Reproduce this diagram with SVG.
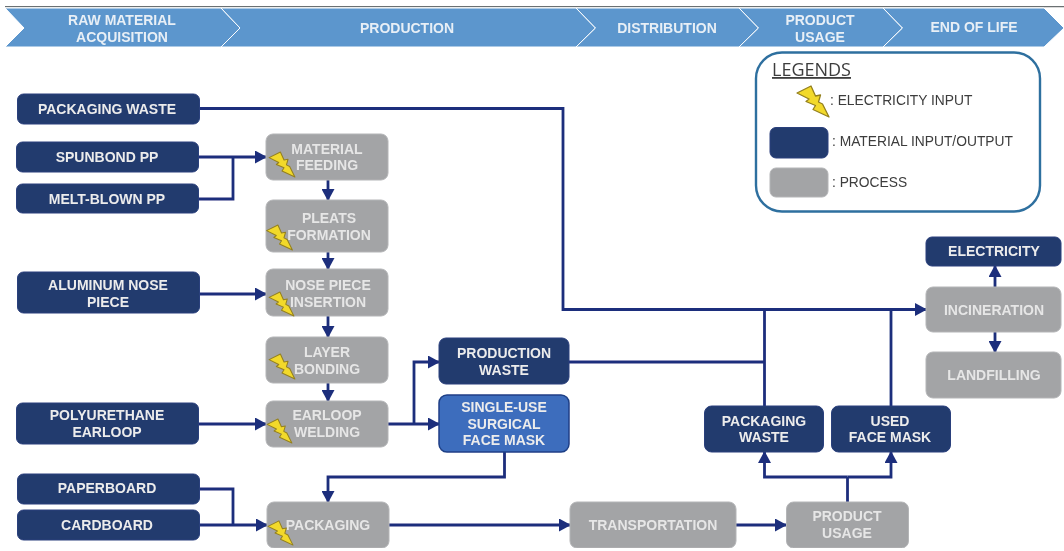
<svg xmlns="http://www.w3.org/2000/svg" xmlns:xlink="http://www.w3.org/1999/xlink" width="1064" height="551" viewBox="0 0 1064 551">
<style>
text{font-family:"Liberation Sans",Arial,sans-serif}
.m rect{fill:#223a6e;stroke:#2a3f7c;stroke-width:1}
.p rect{fill:#a3a4a6;stroke:#b4b5b7;stroke-width:1}
.m text,.s text{fill:#ececec;font-weight:700;font-size:14px;text-anchor:middle}
.p text{fill:#e6e6e6;font-weight:700;font-size:14px;text-anchor:middle}
.b polygon{fill:#5b96cd;stroke:#fff;stroke-width:1}
.b text{fill:#e8eff6;font-weight:700;font-size:14px;text-anchor:middle}
.c path{fill:none;stroke:#1f2f7c;stroke-width:2.8}
.a{marker-end:url(#h)}
.l text{fill:#3c3c3c;font-size:13.800px}
</style>
<defs>
<filter id="soft" x="0" y="0" width="100%" height="100%"><feGaussianBlur stdDeviation="0.45"/></filter>
<marker id="h" markerUnits="userSpaceOnUse" markerWidth="12" markerHeight="13" refX="11" refY="6.500" orient="auto"><path d="M0 0L12 6.500L0 13Z" fill="#1f2f7c"/></marker>
<symbol id="bolt" viewBox="0 0 32 31" overflow="visible"><polygon points="0,7 14,0 18.500,10 23.500,9 21.500,16 25.500,18 32,31 16,23.500 18.500,19.500 9,15.500 12,13" fill="#f2d92c" stroke="#94801f" stroke-width="1.300" stroke-linejoin="round"/></symbol>
</defs>
<rect width="1064" height="551" fill="#fff"/>
<g id="diagram" filter="url(#soft)">
<path d="M5 6.500H1064" stroke="#6b6f72" stroke-width="1.600"/>
<g id="banner" class="b">
<polygon points="5,8 221,8 240,28 221,47 5,47 24,28"/>
<polygon points="221,8 576,8 595.5,28 576,47 221,47 240,28"/>
<polygon points="576,8 739,8 758.5,28 739,47 576,47 595.5,28"/>
<polygon points="739,8 883,8 902.5,28 883,47 739,47 758.5,28"/>
<polygon points="883,8 1044,8 1064,28 1044,47 883,47 902.5,28"/>
<text x="122" y="25">RAW MATERIAL</text><text x="122" y="41.500">ACQUISITION</text>
<text x="407" y="33">PRODUCTION</text>
<text x="667" y="33">DISTRIBUTION</text>
<text x="820" y="25">PRODUCT</text><text x="820" y="42">USAGE</text>
<text x="974" y="32">END OF LIFE</text>
</g>
<g id="connectors" class="c">
<path class="a" d="M199 108.500H563V309.500H926"/>
<path class="a" d="M198 157H266"/>
<path d="M198 199H233V157"/>
<path class="a" d="M328 180V200"/>
<path class="a" d="M328 252V269"/>
<path class="a" d="M328 316V337"/>
<path class="a" d="M328 383V401"/>
<path class="a" d="M198 294H266"/>
<path class="a" d="M198 424H266"/>
<path class="a" d="M388 424H439"/>
<path class="a" d="M414 424V362H439"/>
<path class="a" d="M504.500 452V477H328V502"/>
<path d="M198 489H233V525"/>
<path class="a" d="M198 525H267"/>
<path class="a" d="M389 525H570"/>
<path class="a" d="M736 525H786"/>
<path d="M847.500 502V477"/>
<path class="a" d="M847.500 477H764.500V452"/>
<path class="a" d="M847.500 477H891V452"/>
<path d="M764.500 406V309.500"/>
<path d="M891 406V309.500"/>
<path d="M569 362H764.500"/>
<path class="a" d="M995 287V266"/>
<path class="a" d="M995 332V352"/>
</g>
<g id="packaging-waste-in" class="m"><rect x="17.500" y="94" width="182" height="30" rx="6"/><text x="107" y="114">PACKAGING WASTE</text></g>
<g id="spunbond" class="m"><rect x="16.500" y="142" width="182" height="30" rx="6"/><text x="107" y="162">SPUNBOND PP</text></g>
<g id="melt-blown" class="m"><rect x="16.500" y="184" width="182" height="29" rx="6"/><text x="107" y="204">MELT-BLOWN PP</text></g>
<g id="aluminum" class="m"><rect x="17.500" y="272" width="182" height="41" rx="6"/><text x="108" y="290">ALUMINUM NOSE</text><text x="108" y="307">PIECE</text></g>
<g id="polyurethane" class="m"><rect x="16.500" y="403" width="182" height="41" rx="6"/><text x="107" y="420">POLYURETHANE</text><text x="107" y="437">EARLOOP</text></g>
<g id="paperboard" class="m"><rect x="17.500" y="474" width="182" height="30" rx="6"/><text x="107" y="493">PAPERBOARD</text></g>
<g id="cardboard" class="m"><rect x="17.500" y="510" width="182" height="30" rx="6"/><text x="107" y="530">CARDBOARD</text></g>
<g id="material-feeding" class="p"><rect x="266" y="134" width="122" height="46" rx="7"/><text x="327" y="154">MATERIAL</text><text x="327" y="170">FEEDING</text><use xlink:href="#bolt" href="#bolt" x="269" y="152" width="26" height="25"/></g>
<g id="pleats-formation" class="p"><rect x="266" y="200" width="122" height="52" rx="7"/><text x="329" y="223">PLEATS</text><text x="329" y="240">FORMATION</text><use xlink:href="#bolt" href="#bolt" x="266" y="225" width="27" height="25"/></g>
<g id="nose-piece-insertion" class="p"><rect x="266" y="269" width="122" height="47" rx="7"/><text x="328" y="290">NOSE PIECE</text><text x="328" y="307">INSERTION</text><use xlink:href="#bolt" href="#bolt" x="268" y="292" width="27" height="24"/></g>
<g id="layer-bonding" class="p"><rect x="266" y="337" width="122" height="46" rx="7"/><text x="327" y="357">LAYER</text><text x="327" y="374">BONDING</text><use xlink:href="#bolt" href="#bolt" x="269" y="354" width="26" height="25"/></g>
<g id="earloop-welding" class="p"><rect x="266" y="401" width="122" height="46" rx="7"/><text x="327" y="420">EARLOOP</text><text x="327" y="437">WELDING</text><use xlink:href="#bolt" href="#bolt" x="266" y="419" width="27" height="24"/></g>
<g id="packaging" class="p"><rect x="267" y="502" width="122" height="46" rx="7"/><text x="328" y="530">PACKAGING</text><use xlink:href="#bolt" href="#bolt" x="268" y="520" width="25" height="26"/></g>
<g id="production-waste" class="m"><rect x="439" y="338" width="130" height="46" rx="7"/><text x="504" y="358">PRODUCTION</text><text x="504" y="375">WASTE</text></g>
<g id="single-use-mask" class="s"><rect x="439" y="395" width="130" height="57" rx="8" fill="#3e6dbd" stroke="#1f3f86" stroke-width="1.500"/><text x="504" y="412">SINGLE-USE</text><text x="504" y="429">SURGICAL</text><text x="504" y="445">FACE MASK</text></g>
<g id="transportation" class="p"><rect x="570" y="502" width="166" height="46" rx="7"/><text x="653" y="530">TRANSPORTATION</text></g>
<g id="product-usage" class="p"><rect x="786.500" y="502" width="122" height="46" rx="7"/><text x="847" y="521">PRODUCT</text><text x="847" y="538">USAGE</text></g>
<g id="packaging-waste-out" class="m"><rect x="704.500" y="406" width="119" height="46" rx="7"/><text x="764" y="426">PACKAGING</text><text x="764" y="442">WASTE</text></g>
<g id="used-face-mask" class="m"><rect x="831.500" y="406" width="119" height="46" rx="7"/><text x="890" y="426">USED</text><text x="890" y="442">FACE MASK</text></g>
<g id="incineration" class="p"><rect x="926" y="287" width="135" height="45" rx="7"/><text x="994" y="315">INCINERATION</text></g>
<g id="landfilling" class="p"><rect x="926" y="352" width="135" height="46" rx="7"/><text x="994" y="380">LANDFILLING</text></g>
<g id="electricity" class="m"><rect x="926" y="237" width="135" height="29" rx="6"/><text x="994" y="256">ELECTRICITY</text></g>
<g id="legend" class="l">
<rect x="756" y="52.500" width="284" height="159" rx="26" fill="#fff" stroke="#2f6f9f" stroke-width="2.400"/>
<text x="772" y="76" style="font-family:'Open Sans',sans-serif;font-size:18px" text-decoration="underline">LEGENDS</text>
<use xlink:href="#bolt" href="#bolt" x="797" y="86" width="32" height="31"/>
<text x="830" y="105">: ELECTRICITY INPUT</text>
<rect x="770" y="127.500" width="58" height="30.500" rx="6" fill="#223a6e" stroke="#2a3f7c"/>
<text x="832" y="146">: MATERIAL  INPUT/OUTPUT</text>
<rect x="770" y="168" width="58" height="29" rx="6" fill="#a3a4a6" stroke="#b4b5b7"/>
<text x="832" y="187">: PROCESS</text>
</g>
</g>
</svg>
